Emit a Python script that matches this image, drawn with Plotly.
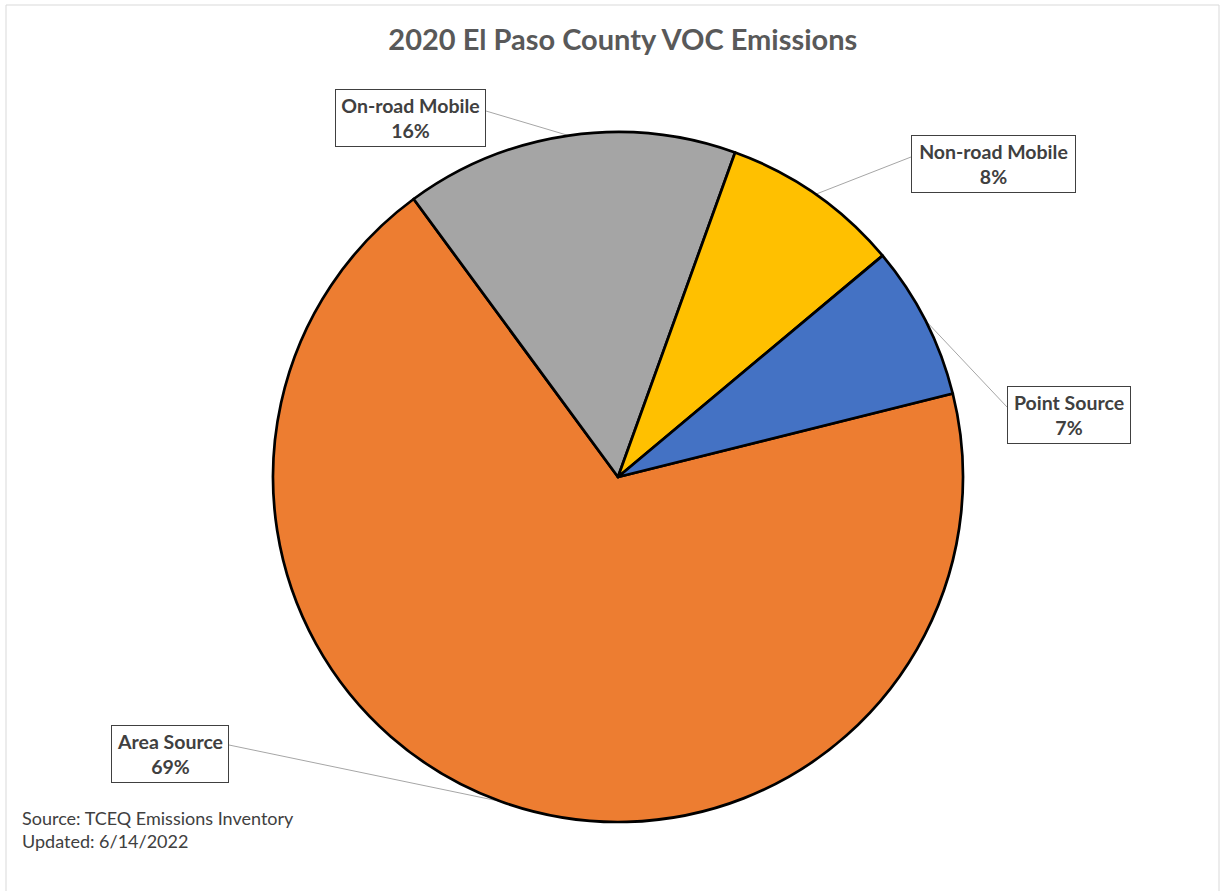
import math
import plotly.graph_objects as go

# ---- data ----
categories = ["Area Source", "On-road Mobile", "Non-road Mobile", "Point Source"]
values = [68.8, 15.6, 8.4, 7.2]
colors = ["#ED7D31", "#A5A5A5", "#FFC000", "#4472C4"]
title_text = "2020 El Paso County VOC Emissions"
source_lines = ["Source: TCEQ Emissions Inventory", "Updated: 6/14/2022"]

# ---- layout geometry (pixels) ----
FIG_W, FIG_H = 1222, 891
L, T, W, H = 273, 132, 690, 690
ROT = 76

def px(x):
    return (x - L) / W

def py(y):
    return (T + H - y) / H

# label boxes: (left, top, right, bottom) in pixels, and leader end point
boxes = {
    "Area Source": ((111, 725, 229, 783), (229, 745)),
    "On-road Mobile": ((335, 89, 486, 147), (486, 111)),
    "Non-road Mobile": ((911, 135, 1076, 193), (911, 157)),
    "Point Source": ((1007, 386, 1131, 444), (1007, 407)),
}

fig = go.Figure(go.Pie(
    labels=categories,
    values=values,
    sort=False,
    direction="clockwise",
    rotation=ROT,
    marker=dict(colors=colors, line=dict(color="black", width=2.7)),
    textinfo="none",
    hoverinfo="label+percent",
    domain=dict(x=[0, 1], y=[0, 1]),
    showlegend=False,
))

total = sum(values)
cum = 0.0
shapes = []
annotations = []
for cat, v in zip(categories, values):
    mid = ROT + 360.0 * (cum + v / 2) / total
    cum += v
    th = math.radians(mid)
    sx = 0.5 + 0.5 * math.sin(th)
    sy = 0.5 + 0.5 * math.cos(th)
    (l, t, r, b), (ex, ey) = boxes[cat]
    shapes.append(dict(type="line", xref="paper", yref="paper",
                       x0=sx, y0=sy, x1=px(ex), y1=py(ey),
                       line=dict(color="#A6A6A6", width=1), layer="below"))
    pct = round(v / total * 100)
    annotations.append(dict(
        xref="paper", yref="paper",
        x=px((l + r) / 2), y=py((t + b) / 2),
        xanchor="center", yanchor="middle",
        text=f"<b>{cat}</b><br><b>{pct}%</b>",
        showarrow=False,
        font=dict(family="Lato", size=19.5, color="#404040"),
        bgcolor="white", bordercolor="#404040", borderwidth=1, borderpad=0,
        width=r - l - 2, height=b - t - 2, align="center",
    ))

annotations.append(dict(
    xref="paper", yref="paper", x=px(20), y=py(829),
    xanchor="left", yanchor="middle", align="left", showarrow=False,
    text="<br>".join(source_lines),
    font=dict(family="Lato", size=18, color="#404040"),
))

# faint outer frame
shapes.append(dict(type="rect", xref="paper", yref="paper",
                   x0=px(6), y0=py(FIG_H + 5), x1=px(1219), y1=py(5),
                   line=dict(color="#D9D9D9", width=1), layer="below"))

fig.update_layout(
    width=FIG_W, height=FIG_H,
    margin=dict(l=L, r=FIG_W - L - W, t=T, b=FIG_H - T - H),
    paper_bgcolor="white", plot_bgcolor="white",
    title=dict(text=f"<b>{title_text}</b>", x=0.507, xref="paper", xanchor="center",
               y=1 - 40 / FIG_H, yref="container", yanchor="middle",
               font=dict(family="Lato", size=29, color="#595959")),
    shapes=shapes,
    annotations=annotations,
)

fig.write_html("out.html")
